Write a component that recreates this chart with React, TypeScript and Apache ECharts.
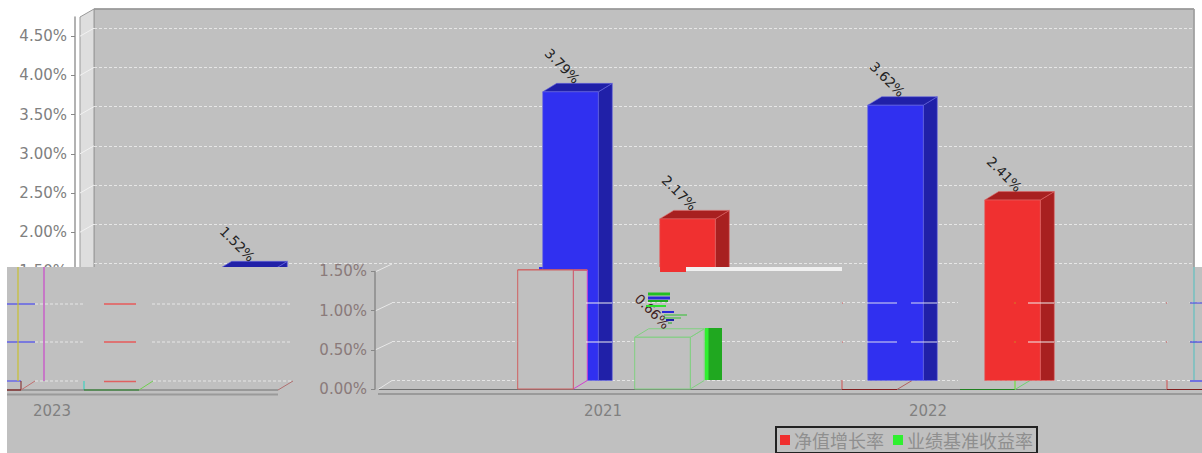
import React, { useEffect, useRef } from "react";
import * as echarts from "echarts";

const categories = ["2023", "2021", "2022"];
const netGrowth = [1.52, 3.79, 3.62];
const benchmark = [0.66, 2.17, 2.41];
const seriesNames = ["净值增长率", "业绩基准收益率"];
const wallTicks = [2, 2.5, 3, 3.5, 4, 4.5];
const yTicksMax = 4.745;

const FONT = '"DejaVu Sans", sans-serif';
const BG = "#c0c0c0";
const PAL = {
  blue: { front: "#3030f0", side: "#2020a8", edge: "#6464e0" },
  red: { front: "#f03030", side: "#a82020", edge: "#e06464" },
};

const DEPTH_X = 14;
const DEPTH_Y = 8.5;

function solidBar(pal: any) {
  return (params: any, api: any) => {
    const band = api.size([1, 0])[0];
    const w = band * 0.171;
    const off = band * (pal.offset as number);
    const c = api.coord([api.value(0), api.value(1)]);
    const b = api.coord([api.value(0), 0]);
    const x1 = c[0] + off - w / 2;
    const x2 = x1 + w;
    const top = c[1];
    const base = b[1] - DEPTH_Y;
    const children: any[] = [
      { type: "polygon", shape: { points: [[x2, top], [x2 + DEPTH_X, top - DEPTH_Y], [x2 + DEPTH_X, base], [x2, base]] }, style: { fill: pal.side, stroke: pal.edge, lineWidth: 0.6 } },
      { type: "polygon", shape: { points: [[x1, top], [x1 + DEPTH_X, top - DEPTH_Y], [x2 + DEPTH_X, top - DEPTH_Y], [x2, top]] }, style: { fill: pal.side, stroke: pal.edge, lineWidth: 0.6 } },
      { type: "rect", shape: { x: x1, y: top, width: w, height: base - top }, style: { fill: pal.front, stroke: pal.edge, lineWidth: 0.6 } },
      {
        type: "text", x: (x1 + x2) / 2 - 8, y: top - 26, rotation: -Math.PI / 4,
        style: { x: 0, y: 0, text: api.value(1).toFixed(2) + "%", align: "center", verticalAlign: "middle", fill: "#222", font: `13.5px ${FONT}` },
      },
    ];
    return { type: "group", children };
  };
}

function ghostBar(edge: string, offset: number, rightEdge: string, labelColor: string | null) {
  return (params: any, api: any) => {
    const band = api.size([1, 0])[0];
    const w = band * 0.171;
    const c = api.coord([api.value(0), api.value(1)]);
    const b = api.coord([api.value(0), 0]);
    const x1 = c[0] + band * offset - w / 2;
    const x2 = x1 + w;
    const cl = (y: number) => Math.max(y, 270);
    const top = cl(c[1]);
    const back = cl(c[1] - DEPTH_Y);
    const base = b[1];
    const st = { fill: BG, stroke: edge, lineWidth: 1 };
    const children: any[] = [
      { type: "polygon", shape: { points: [[x2, top], [x2 + DEPTH_X, back], [x2 + DEPTH_X, base - DEPTH_Y], [x2, base]] }, style: { ...st, stroke: rightEdge } },
      { type: "polygon", shape: { points: [[x1, top], [x1 + DEPTH_X, back], [x2 + DEPTH_X, back], [x2, top]] }, style: st },
      { type: "rect", shape: { x: x1, y: top, width: w, height: base - top }, style: st },
    ];
    if (labelColor) {
      children.push({
        type: "text", x: (x1 + x2) / 2 - 10, y: top - 26, rotation: -Math.PI / 4,
        style: { x: 0, y: 0, text: api.value(1).toFixed(2) + "%", align: "center", verticalAlign: "middle", fill: labelColor, font: `13.5px ${FONT}` },
      });
    }
    return { type: "group", children };
  };
}

// Screen artefacts of the damaged picture: [x1, y1, x2, y2, colour, width]
const artefactsBelowBars: any[] = [
  [7, 304, 35, 304, "#4a4af0", 1.2], [7, 342, 35, 342, "#4a4af0", 1.2], [7, 381, 21, 381, "#6a6ae8", 1.5],
  [104, 304, 136, 304, "#f04040", 1.2], [104, 342, 136, 342, "#f04040", 1.2], [104, 381.5, 136, 381.5, "#e06060", 1.5],
  [18, 267, 18, 381, "#c8c030", 1.2], [44, 267, 44, 381, "#c860c8", 1.5],
  [84, 381, 84, 390, "#40d0c0", 1.2],
  [7, 390, 278, 390, "#707070", 1], [278, 390, 293, 381, "#b07070", 1],
  [21, 381, 21, 390, "#802020", 1], [21, 390, 35, 381, "#c07070", 1],
  [139, 390, 153, 381, "#70d050", 1],
  [7, 394.5, 278, 394.5, "#9a9a9a", 2],
  [84, 390, 139, 390, "#208020", 1.2], [7, 390, 21, 390, "#802020", 1.2],
  [378, 389.5, 1202, 389.5, "#707070", 1], [378, 394, 1202, 394, "#9a9a9a", 2],
  [378, 389.5, 392, 380.5, "#e8e8e8", 1],
  [375, 350, 392, 342, "#e8e8e8", 1], [375, 311, 392, 303, "#e8e8e8", 1], [375, 272, 392, 264, "#e8e8e8", 1],
  [842, 380, 842, 389.5, "#d05050", 1], [842, 389.5, 897, 389.5, "#802020", 1.2], [897, 389.5, 912, 380.5, "#b06060", 1],
  [960, 389.5, 1015, 389.5, "#208020", 1.2], [1015, 380, 1015, 389.5, "#70e040", 1.2], [1015, 389.5, 1030, 380.5, "#70d070", 1],
  [1167, 380, 1167, 389.5, "#d05050", 1], [1167, 389.5, 1202, 389.5, "#802020", 1.2],
  [1194, 267, 1194, 380, "#60c0c0", 1.2], [1190, 303, 1202, 303, "#5050e0", 1.2], [1190, 342, 1202, 342, "#4040e0", 1.2], [1190, 381, 1202, 381, "#7070e0", 2],
  [842, 303, 843, 303, "#d05050", 1], [842, 342, 843, 342, "#d05050", 1], [1166, 303, 1167, 303, "#d05050", 1], [1166, 342, 1167, 342, "#d05050", 1],
];
const artefactsAboveBars: any[] = [
  [586, 303, 612, 303, "#eeeeee", 1], [586, 342, 612, 342, "#eeeeee", 1],
  [867, 303, 897, 303, "#dcdcf0", 1], [911, 303, 937, 303, "#dcdcf0", 1],
  [867, 342, 897, 342, "#dcdcf0", 1], [911, 342, 937, 342, "#dcdcf0", 1],
  [1028, 303, 1054, 303, "#eeeeee", 1], [1028, 342, 1054, 342, "#eeeeee", 1],
  [1014, 303, 1016, 303, "#d08020", 1], [1014, 342, 1016, 342, "#d08020", 1],
  [648, 294, 670, 294, "#22c022", 3], [648, 298, 670, 298, "#2a2ad8", 3], [648, 301, 668, 301, "#20a820", 2],
  [646, 306, 666, 306, "#30e030", 2], [662, 312, 674, 312, "#2a2ad8", 2], [664, 315, 687, 315, "#30c030", 1],
  [664, 318, 681, 318, "#30c030", 1], [666, 320, 674, 320, "#2020a8", 2],
  [672, 323, 668, 323, "#20a820", 1],
];
const whiteDash: any[] = [
  [35, 304, 83, 304], [35, 342, 83, 342], [35, 381, 80, 381],
  [152, 304, 291, 304], [152, 342, 291, 342], [153, 381, 291, 381],
];
const coverRects: any[] = [
  [958, 298, 27, 88], [1167.5, 298, 22, 48],
];

const line = (a: any[], z: number) => ({
  type: "line", z, silent: true,
  shape: { x1: a[0], y1: a[1], x2: a[2], y2: a[3] },
  style: { stroke: a[4], lineWidth: a[5] },
});

function hiddenAxis(gridIndex: number) {
  return { gridIndex, show: false };
}

export default function App() {
  const ref = useRef<HTMLDivElement>(null);
  useEffect(() => {
    const chart = echarts.init(ref.current!, null, { renderer: "svg" });
    const A = { ...PAL.blue, offset: -0.18 };
    const B = { ...PAL.red, offset: 0.18 };
    const pick = (arr: number[], idx: number[]) => idx.map((i) => [i, arr[i]]);
    const splitDash = { show: true, showMaxLine: false, lineStyle: { color: "#e6e6e6", type: [3, 2] as any, width: 1 } };
    const label = (color: string) => ({ color, fontFamily: FONT, fontSize: 15, margin: 8, padding: [2, 0, 0, 0], formatter: (v: number) => v.toFixed(2) + "%" });

    chart.setOption({
      animation: false,
      backgroundColor: "#ffffff",
      grid: [
        { left: 94, top: 9, width: 1100, height: 372, show: true, backgroundColor: BG, borderColor: "#999999", borderWidth: 1 },
        { left: 75, top: 17, width: 100, height: 372 },
        { left: 141.5, top: 17, width: 975, height: 372 },
        { left: 441.5, top: 17, width: 325, height: 372 },
        { left: 375, top: 271.4, width: 100, height: 117.6 },
        { left: 392, top: 270.9, width: 810, height: 109.76 },
        { left: 440.5, top: 300, width: 650, height: 94 },
        { left: 0, top: 300, width: 104, height: 94 },
      ],
      xAxis: [
        { ...hiddenAxis(0), type: "value", min: 0, max: 1 },
        { ...hiddenAxis(1), type: "value", min: 0, max: 1 },
        { ...hiddenAxis(2), type: "category", data: categories },
        { ...hiddenAxis(3), type: "category", data: categories.slice(0, 1) },
        { ...hiddenAxis(4), type: "value", min: 0, max: 1 },
        { ...hiddenAxis(5), type: "value", min: 0, max: 1 },
        {
          gridIndex: 6, type: "category", data: categories.slice(1), z: 6,
          axisLine: { show: false }, axisTick: { alignWithLabel: true, length: 3, lineStyle: { color: "#888888" } },
          axisLabel: { color: "#808080", fontFamily: FONT, fontSize: 15, margin: 9 },
        },
        {
          gridIndex: 7, type: "category", data: categories.slice(0, 1), z: 6,
          axisLine: { show: false }, axisTick: { alignWithLabel: true, length: 3, lineStyle: { color: "#888888" } },
          axisLabel: { color: "#808080", fontFamily: FONT, fontSize: 15, margin: 9 },
        },
      ],
      yAxis: [
        {
          gridIndex: 0, type: "value", min: 0, max: yTicksMax, interval: 0.5, z: 1,
          axisLine: { show: false }, axisTick: { show: false }, axisLabel: { show: false }, splitLine: splitDash,
        },
        {
          gridIndex: 1, type: "value", min: 0, max: yTicksMax, interval: 0.5, z: 1,
          axisLine: { show: true, lineStyle: { color: "#999999", width: 1.5 } },
          axisTick: { show: true, length: 4, lineStyle: { color: "#888888" } },
          axisLabel: { ...label("#808080"), showMaxLabel: false },
          splitLine: { show: false },
        },
        { ...hiddenAxis(2), type: "value", min: 0, max: yTicksMax },
        { ...hiddenAxis(3), type: "value", min: 0, max: yTicksMax },
        {
          gridIndex: 4, type: "value", min: 0, max: 1.5, interval: 0.5, z: 6,
          axisLine: { show: true, lineStyle: { color: "#8a8a8a", width: 1.5 } },
          axisTick: { show: true, length: 4, lineStyle: { color: "#888888" } },
          axisLabel: label("#8a7a7a"),
          splitLine: { show: false },
        },
        {
          gridIndex: 5, type: "value", min: 0, max: 1.4, interval: 0.5, z: 5,
          axisLine: { show: false }, axisTick: { show: false }, axisLabel: { show: false }, splitLine: splitDash,
        },
        { gridIndex: 6, type: "value", show: false },
        { gridIndex: 7, type: "value", show: false },
      ],
      legend: {
        left: 776, top: 427, z: 9, selectedMode: false,
        data: seriesNames, icon: "rect", itemWidth: 10, itemHeight: 10, itemGap: 9,
        padding: [4, 4, 4, 4], borderColor: "#222222", borderWidth: 2,
        textStyle: { color: "#8f8f8f", fontFamily: '"Noto Sans CJK SC"', fontSize: 18, padding: [0, 0, 0, -1] },
      },
      series: [
        { type: "custom", name: seriesNames[0], xAxisIndex: 2, yAxisIndex: 2, z: 2, clip: false, itemStyle: { color: "#f03030" }, renderItem: solidBar(A), data: pick(netGrowth, [0]) },
        { type: "custom", name: seriesNames[1], xAxisIndex: 2, yAxisIndex: 2, z: 2, clip: false, itemStyle: { color: "#30f030" }, renderItem: solidBar(B), data: pick(benchmark, [1]) },
        { type: "custom", name: seriesNames[0], xAxisIndex: 2, yAxisIndex: 2, z: 6, clip: false, itemStyle: { color: "#f03030" }, renderItem: solidBar(A), data: pick(netGrowth, [1, 2]) },
        { type: "custom", name: seriesNames[1], xAxisIndex: 2, yAxisIndex: 2, z: 6, clip: false, itemStyle: { color: "#30f030" }, renderItem: solidBar(B), data: pick(benchmark, [2]) },
        { type: "custom", name: seriesNames[0], xAxisIndex: 3, yAxisIndex: 3, z: 7, clip: false, itemStyle: { color: "#f03030" }, renderItem: ghostBar("#d06060", -0.18, "#d040d0", null), data: pick(netGrowth, [0]) },
        { type: "custom", name: seriesNames[1], xAxisIndex: 3, yAxisIndex: 3, z: 7, clip: false, itemStyle: { color: "#30f030" }, renderItem: ghostBar("#80d080", 0.18, "#80d080", "#402020"), data: pick(benchmark, [0]) },
      ],
      graphic: [
        // left wall and frame of the upper picture
        { type: "polygon", z: 1, silent: true, shape: { points: [[80, 17], [94, 9], [94, 268], [80, 268]] }, style: { fill: "#dedede", stroke: "#999999", lineWidth: 1 } },
        { type: "line", z: 1.5, silent: true, shape: { x1: 94, y1: 9, x2: 1194, y2: 9 }, style: { stroke: "#999999", lineWidth: 1.5 } },
        { type: "line", z: 1.5, silent: true, shape: { x1: 1194, y1: 9, x2: 1194, y2: 267 }, style: { stroke: "#a0a0a0", lineWidth: 1.5 } },
        ...wallTicks.map((v) => {
          const y = 389 - 78.4 * v;
          return { type: "line", z: 1.5, silent: true, shape: { x1: 80, y1: y, x2: 94, y2: y - 8 }, style: { stroke: "#f2f2f2", lineWidth: 1 } };
        }),
        // damaged lower strip
        { type: "polygon", z: 5, silent: true, shape: { points: [[7, 267], [660, 267], [660, 272], [686, 272], [686, 267], [1202, 267], [1202, 453], [7, 453]] }, style: { fill: BG } },
        { type: "rect", z: 5.9, silent: true, shape: { x: 539, y: 267, width: 5, height: 3 }, style: { fill: "#3030f0" } },
        { type: "rect", z: 7.5, silent: true, shape: { x: 686, y: 267, width: 156, height: 4 }, style: { fill: "#f0f0f0" } },
        // bright green sliver beside the outlined box
        { type: "rect", z: 7.5, silent: true, shape: { x: 705, y: 328, width: 17, height: 52 }, style: { fill: "#20a820" } },
        { type: "rect", z: 7.6, silent: true, shape: { x: 705, y: 328, width: 3.5, height: 52 }, style: { fill: "#30f030" } },
        ...coverRects.map((r) => ({ type: "rect", z: 5.2, silent: true, shape: { x: r[0], y: r[1], width: r[2], height: r[3] }, style: { fill: BG } })),
        ...whiteDash.map((a) => ({ type: "line", z: 5.3, silent: true, shape: { x1: a[0], y1: a[1], x2: a[2], y2: a[3] }, style: { stroke: "#e6e6e6", lineWidth: 1, lineDash: [3, 2] } })),
        ...artefactsBelowBars.map((a) => line(a, 5.5)),
        ...artefactsAboveBars.map((a) => line(a, 8)),
      ],
    });
    return () => chart.dispose();
  }, []);
  return <div ref={ref} style={{ position: "absolute", left: 0, top: 0, width: 1202, height: 453 }} />;
}
